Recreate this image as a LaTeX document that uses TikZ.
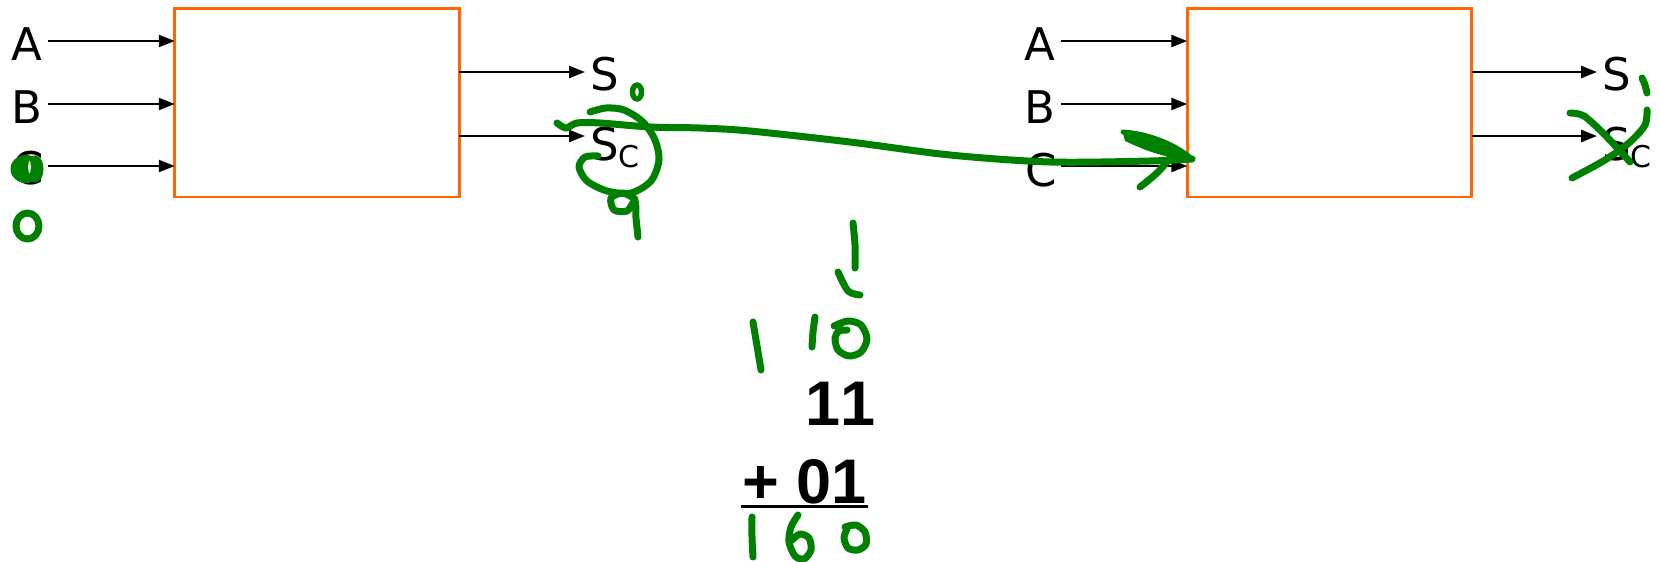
\documentclass[tikz,border=0pt]{standalone}
\usepackage{fontspec}
\setmainfont{DejaVu Sans}
\newfontfamily\numfont[Kerning=Off]{Liberation Sans}
\usetikzlibrary{arrows.meta}
\definecolor{boxorange}{RGB}{255,102,0}
\definecolor{ink}{RGB}{0,128,0}
\begin{document}
\begin{tikzpicture}[x=1pt,y=-1pt,
  blk/.style={draw=boxorange, line width=2.7pt, minimum width=284.5pt, minimum height=188.5pt, inner sep=0pt, outer sep=0pt},
  lbl/.style={font=\fontsize{45}{45}\selectfont, inner sep=0pt, anchor=base},
  outl/.style={font=\fontsize{45}{45}\selectfont, inner sep=0pt, anchor=base west},
  num/.style={font=\numfont\bfseries\fontsize{63}{63}\selectfont, inner sep=0pt},
  arr/.style={line width=2.4pt, -{Triangle[length=16pt,width=12pt]}},
  hw/.style={draw=ink, line width=7pt, line cap=round, line join=round},
]
\useasboundingbox (0,0) rectangle (1660,562);
\fill[white] (0,0) rectangle (1660,562);

% boxes
\node[blk] (L) at (317,102.75) {};
\node[blk] (R) at (1329.5,102.75) {};

% left labels
\node[lbl] (lA) at (26.5,60) {A};
\node[lbl] (lB) at (27,123) {B};
\node[lbl] (lC) at (28,184) {C};
\coordinate (la) at (47.6,41);
\coordinate (lb) at (47.6,104);
\coordinate (lc) at (47.6,166);
\draw[arr] (la) -- (la -| L.west);
\draw[arr] (lb) -- (lb -| L.west);
\draw[arr] (lc) -- (lc -| L.west);
\coordinate (lsEnd) at (585,72);
\coordinate (lcEnd) at (585,136);
\draw[arr] (lsEnd -| L.east) -- (lsEnd);
\draw[arr] (lcEnd -| L.east) -- (lcEnd);
\node[outl] (lS) at (590,90) {S};
\node[outl] (lSc) at (590,160) {S\raisebox{-7pt}{\fontsize{30}{30}\selectfont C}};

% right labels
\node[lbl] (rA) at (1040,60) {A};
\node[lbl] (rB) at (1040,123) {B};
\node[lbl] (rC) at (1041,186) {C};
\coordinate (ra) at (1061,41);
\coordinate (rb) at (1061,104);
\coordinate (rc) at (1061,166);
\draw[arr] (ra) -- (ra -| R.west);
\draw[arr] (rb) -- (rb -| R.west);
\draw[arr] (rc) -- (rc -| R.west);
\coordinate (rsEnd) at (1597,72);
\coordinate (rcEnd) at (1597,136);
\draw[arr] (rsEnd -| R.east) -- (rsEnd);
\draw[arr] (rcEnd -| R.east) -- (rcEnd);
\node[outl] (rS) at (1602,90) {S};
\node[outl] (rSc) at (1602,160) {S\raisebox{-7pt}{\fontsize{30}{30}\selectfont C}};

% sum
\node[num, anchor=base east] (n11) at (876,425) {11};
\node[num, anchor=base west] (n01) at (742,503) {+ 01};
\draw[line width=3pt] (741,506) -- (868,506);

% handwriting (green)
% blob over left C
\fill[ink] (26,169) ellipse [x radius=15.5, y radius=14];
\draw[ink, line width=5pt] (35,169) ellipse [x radius=6, y radius=11];
\fill[white] (29.5,167) ellipse [x radius=1.3, y radius=6];
% 0 below
\draw[hw] (27.5,226) ellipse [x radius=11.5, y radius=13];
% small 0 near S
\draw[hw, line width=5.5pt] (637,92) ellipse [x radius=4.5, y radius=7];
% loop around Sc
\draw[hw] plot[smooth] coordinates {(590,112) (606,108) (624,110) (643,122) (655,140) (659,160) (651,181) (631,193) (607,191) (587,181) (579,167) (585,157) (598,156)};
% 9
\draw[hw] plot[smooth] coordinates {(635,199) (623,193) (611,198) (614,210) (627,211) (635,201) (636,218) (638,237)};
% long line
\draw[hw] plot[smooth] coordinates {(557,123) (566,128) (577,123) (600,123) (650,127) (700,128) (750,131) (850,142) (950,155) (1050,162) (1150,161) (1192,159)};
% arrowhead
\fill[ink] (1122,130) .. controls (1150,131) and (1176,143) .. (1194,159) .. controls (1170,160) and (1146,151) .. (1125,141) -- cycle;
\draw[hw, line width=5pt] (1123,132) .. controls (1150,134) and (1176,145) .. (1192,159);
\draw[hw] plot[smooth] coordinates {(1140,187) (1158,172) (1174,153)};
% X over right Sc
\draw[hw] plot[smooth] coordinates {(1642,78) (1645,85) (1647,93)};
\draw[hw] plot[smooth] coordinates {(1570,113) (1584,116) (1605,135) (1630,162)};
\draw[hw] plot[smooth] coordinates {(1647,110) (1645,125) (1630,142) (1605,160) (1572,178)};
% column digits
\draw[hw] plot[smooth] coordinates {(853,223) (855,245) (855,268)};
\draw[hw] plot[smooth] coordinates {(838,272) (848,291) (860,295)};
\draw[hw] plot[smooth] coordinates {(815,317) (813,332) (812,347)};
\draw[hw] plot[smooth] coordinates {(834,326) (848,321) (861,325) (867,339) (861,352) (849,356) (838,350) (835,338) (839,331) (847,330)};
\draw[hw] plot[smooth] coordinates {(753,322) (757,346) (761,370)};
% result digits
\draw[hw] plot[smooth] coordinates {(752,517) (752,537) (753,557)};
\draw[hw] plot[smooth] coordinates {(798,515) (791,527) (789,542) (795,556) (804,559) (811,550) (809,538) (800,534) (792,540)};
\draw[hw] plot[smooth] coordinates {(845,527) (856,525) (865,532) (866,544) (858,550) (848,548) (844,538) (847,529)};
\end{tikzpicture}
\end{document}
